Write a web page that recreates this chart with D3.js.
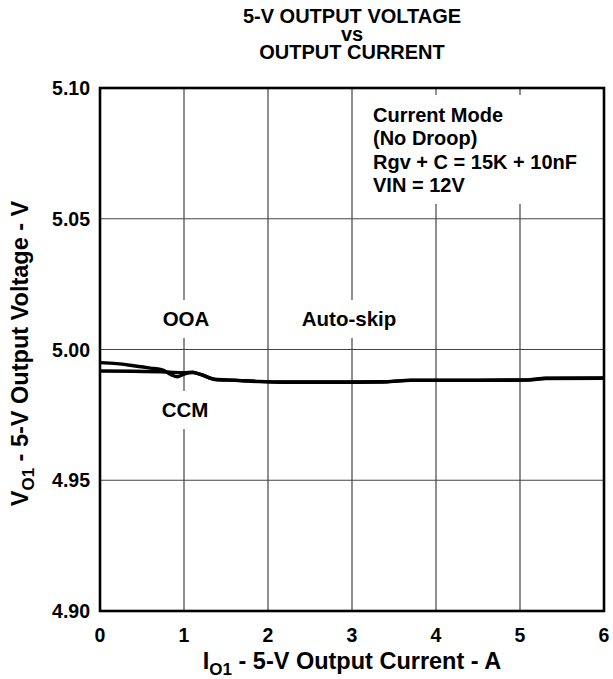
<!DOCTYPE html>
<html>
<head>
<meta charset="utf-8">
<script src="https://cdn.jsdelivr.net/npm/d3@7"></script>
<style>
  body { margin: 0; background: #fff; }
  text { font-family: "Liberation Sans", Arial, Helvetica, sans-serif; font-weight: bold; fill: #000; }
</style>
</head>
<body>
<div id="chart"></div>
<script>
// data
var xTicks = [0, 1, 2, 3, 4, 5, 6];
var yTicks = [4.90, 4.95, 5.00, 5.05, 5.10];

// OOA curve (upper at light load)
var currentOOA = [0, 0.2, 0.4, 0.6, 0.75, 0.85, 0.92, 1.0, 1.1, 1.2, 1.37, 1.6, 1.9, 2.2, 3.0, 3.4, 3.7, 4.5, 5.1, 5.3, 6.0];
var voltageOOA = [4.9950, 4.9946, 4.9938, 4.9929, 4.9921, 4.9903, 4.9896, 4.9906, 4.9912, 4.9905, 4.9886, 4.9883, 4.9878, 4.9876, 4.9876, 4.9877, 4.9883, 4.9883, 4.9884, 4.9890, 4.9891];

// CCM curve
var currentCCM = [0, 0.4, 0.8, 1.0, 1.1, 1.2, 1.37, 1.6, 1.9, 2.2, 3.0, 3.4, 3.7, 4.5, 5.1, 5.3, 6.0];
var voltageCCM = [4.9918, 4.9917, 4.9914, 4.9911, 4.9913, 4.9904, 4.9885, 4.9882, 4.9877, 4.9875, 4.9875, 4.9876, 4.9882, 4.9882, 4.9883, 4.9889, 4.9890];

var titleLines = ["5-V OUTPUT VOLTAGE", "vs", "OUTPUT CURRENT"];
var noteLines = ["Current Mode", "(No Droop)", "Rgv + C = 15K + 10nF", "VIN = 12V"];

var width = 613,
    height = 679,
    margin = {top: 88, right: 9, bottom: 68, left: 100};
var w = width - margin.left - margin.right,
    h = height - margin.top - margin.bottom;

var svg = d3.select("#chart").append("svg")
    .attr("width", width)
    .attr("height", height);

var x = d3.scaleLinear().domain([0, 6]).range([margin.left, margin.left + w]);
var y = d3.scaleLinear().domain([4.90, 5.10]).range([margin.top + h, margin.top]);

// title
svg.append("g").selectAll("text")
    .data(titleLines)
    .enter().append("text")
    .attr("x", margin.left + w / 2)
    .attr("y", (d, i) => 23 + i * 18)
    .attr("text-anchor", "middle")
    .style("font-size", "20px")
    .text(d => d);

// grid
var grid = svg.append("g").attr("stroke", "#444").attr("stroke-width", 1.2);
grid.selectAll("line.v")
    .data(xTicks.slice(1, -1))
    .enter().append("line")
    .attr("x1", d => x(d)).attr("x2", d => x(d))
    .attr("y1", y(5.10)).attr("y2", y(4.90));
grid.selectAll("line.h")
    .data(yTicks.slice(1, -1))
    .enter().append("line")
    .attr("x1", x(0)).attr("x2", x(6))
    .attr("y1", d => y(d)).attr("y2", d => y(d));

// curves
var line = d3.line()
    .x(d => x(d[0]))
    .y(d => y(d[1]))
    .curve(d3.curveMonotoneX);

svg.append("path")
    .datum(d3.zip(currentCCM, voltageCCM))
    .attr("fill", "none")
    .attr("stroke", "#000")
    .attr("stroke-width", 3.4)
    .attr("d", line);

svg.append("path")
    .datum(d3.zip(currentOOA, voltageOOA))
    .attr("fill", "none")
    .attr("stroke", "#000")
    .attr("stroke-width", 3.4)
    .attr("d", line);

// labels with white boxes that break the grid
function boxedLabel(g, padX, padTop, padBottom) {
    var bb = g.node().getBBox();
    g.insert("rect", ":first-child")
        .attr("x", bb.x - padX)
        .attr("y", bb.y - padTop)
        .attr("width", bb.width + 2 * padX)
        .attr("height", bb.height + padTop + padBottom)
        .attr("fill", "#fff");
}

var labels = [
    {text: "OOA", cx: 186, y: 326},
    {text: "Auto-skip", cx: 349, y: 326},
    {text: "CCM", cx: 185, y: 417}
];
labels.forEach(function(l) {
    var g = svg.append("g");
    g.append("text")
        .attr("x", l.cx)
        .attr("y", l.y)
        .attr("text-anchor", "middle")
        .style("font-size", "20.5px")
        .text(l.text);
    boxedLabel(g, 4, 7, 8);
});

var note = svg.append("g");
note.selectAll("text")
    .data(noteLines)
    .enter().append("text")
    .attr("x", 373)
    .attr("y", (d, i) => 122 + i * 23.3)
    .style("font-size", "20px")
    .text(d => d);
boxedLabel(note, 6, 9, 8);

// frame
svg.append("rect")
    .attr("x", x(0)).attr("y", y(5.10))
    .attr("width", x(6) - x(0)).attr("height", y(4.90) - y(5.10))
    .attr("fill", "none")
    .attr("stroke", "#000")
    .attr("stroke-width", 2.6);

// tick labels
svg.append("g").selectAll("text")
    .data(xTicks)
    .enter().append("text")
    .attr("x", d => x(d))
    .attr("y", y(4.90) + 31)
    .attr("text-anchor", "middle")
    .style("font-size", "19.5px")
    .text(d => d);

svg.append("g").selectAll("text")
    .data(yTicks)
    .enter().append("text")
    .attr("x", x(0) - 10)
    .attr("y", d => y(d) + 7)
    .attr("text-anchor", "end")
    .style("font-size", "19.5px")
    .text(d => d.toFixed(2));

// axis titles
var xTitle = svg.append("text")
    .attr("x", margin.left + w / 2)
    .attr("y", 669)
    .attr("text-anchor", "middle")
    .style("font-size", "23.5px");
xTitle.append("tspan").text("I");
xTitle.append("tspan").attr("dy", 6).style("font-size", "17px").text("O1");
xTitle.append("tspan").attr("dy", -6).text(" - 5-V Output Current - A");

var yTitle = svg.append("text")
    .attr("transform", "translate(28," + (margin.top + h / 2 + 4) + ") rotate(-90)")
    .attr("text-anchor", "middle")
    .style("font-size", "23.5px");
yTitle.append("tspan").text("V");
yTitle.append("tspan").attr("dy", 6).style("font-size", "17px").text("O1");
yTitle.append("tspan").attr("dy", -6).text(" - 5-V Output Voltage - V");
</script>
</body>
</html>
